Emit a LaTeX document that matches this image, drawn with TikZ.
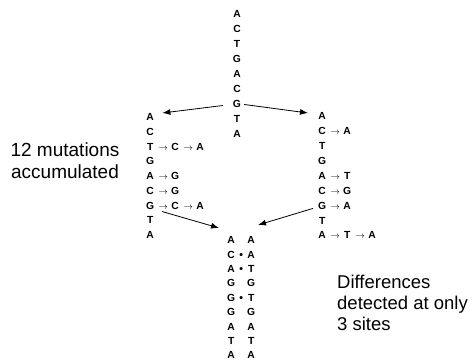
\documentclass[tikz,border=0pt]{standalone}
\usepackage{fontspec}
\setmainfont{Liberation Sans}
\usetikzlibrary{calc,arrows.meta}
\newcommand\dnafont{\fontsize{10.3}{12}\selectfont\bfseries}
\newcommand\bx[1]{\makebox[8pt]{#1}}
\newcommand\ar{\makebox[17pt]{\fontsize{9}{10}\selectfont\hspace{1pt}$\rightarrow$}}
\newcommand\gap{\makebox[12pt]{}}
\newcommand\dt{\makebox[12pt]{\fontsize{10.5}{10}\selectfont\textbullet}}
\begin{document}
\begin{tikzpicture}[x=1pt,y=-1pt,
  base/.style={inner sep=0pt, font=\dnafont, text height=7.4pt, text depth=0pt},
  row/.style={base, anchor=west},
  link/.style={line width=0.8pt, -{Latex[length=8pt,width=6pt]}},
  note/.style={inner sep=0pt, font=\fontsize{19}{22}\selectfont}
]
\useasboundingbox (0,0) rectangle (473,363);
% top sequence
\foreach \l [count=\i] in {A,C,T,G,A,C,G,T,A}
  \node[base] (t\i) at (237,{13.5+15*(\i-1)}) {\l};
% left sequence
\foreach \txt [count=\i] in {{\bx{A}},{\bx{C}},{\bx{T}\ar\bx{C}\ar\bx{A}},{\bx{G}},{\bx{A}\ar\bx{G}},{\bx{C}\ar\bx{G}},{\bx{G}\ar\bx{C}\ar\bx{A}},{\bx{T}},{\bx{A}}}
  \node[row] (l\i) at (146,{117+14.75*(\i-1)}) {\txt};
% right sequence
\foreach \txt [count=\i] in {{\bx{A}},{\bx{C}\ar\bx{A}},{\bx{T}},{\bx{G}},{\bx{A}\ar\bx{T}},{\bx{C}\ar\bx{G}},{\bx{G}\ar\bx{A}},{\bx{T}},{\bx{A}\ar\bx{T}\ar\bx{A}}}
  \node[row] (r\i) at (318,{116+14.9*(\i-1)}) {\txt};
% middle comparison
\foreach \txt [count=\i] in {{\bx{A}\gap\bx{A}},{\bx{C}\dt\bx{A}},{\bx{A}\dt\bx{T}},{\bx{G}\gap\bx{G}},{\bx{G}\dt\bx{T}},{\bx{G}\gap\bx{G}},{\bx{A}\gap\bx{A}},{\bx{T}\gap\bx{T}},{\bx{A}\gap\bx{A}}}
  \node[row] (m\i) at (227,{240+14.4*(\i-1)}) {\txt};
% notes
\node[note, align=center] (n1) at (65,161) {12 mutations\\accumulated};
\node[note, align=left, anchor=west, font=\fontsize{18.5}{21}\selectfont] (n2) at (337,303) {Differences\\detected at only\\3 sites};
% connectors
\draw[link] ($(t7.west)+(-10,2)$) -- ($(l1.east)+(8,-4)$);
\draw[link] ($(t7.east)+(3,1)$) -- ($(r1.west)+(-10,-3)$);
\draw[link] ($(l7.west)+(16,6)$) -- ($(m1.west)+(-8,-12)$);
\draw[link] ($(r7.west)+(-5,3)$) -- ($(m1.west)+(31,-15)$);
\end{tikzpicture}
\end{document}
